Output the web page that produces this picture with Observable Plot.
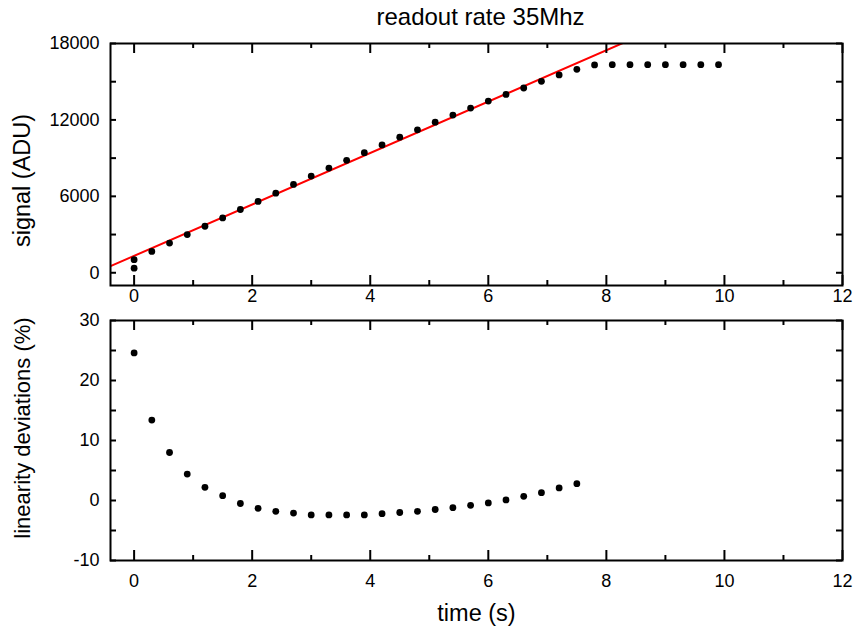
<!DOCTYPE html>
<html>
<head>
<meta charset="utf-8">
<script src="https://cdn.jsdelivr.net/npm/d3@7"></script>
<script src="https://cdn.jsdelivr.net/npm/@observablehq/plot@0.6"></script>
<style>
  html, body { margin: 0; padding: 0; background: #fff; }
  #chart { position: relative; width: 856px; height: 633px; font-family: "Liberation Sans", Arial, sans-serif; }
  #chart svg { position: absolute; left: 0; overflow: visible; }
</style>
</head>
<body>
<div id="chart"></div>
<script>
// ---- data ----
const titleText = "readout rate 35Mhz";
const signalLabel = "signal (ADU)";
const deviationLabel = "linearity deviations (%)";
const timeLabel = "time (s)";

const signalTime = [0, 0, 0.3, 0.6, 0.9, 1.2, 1.5, 1.8, 2.1, 2.4, 2.7, 3.0, 3.3, 3.6, 3.9, 4.2, 4.5, 4.8, 5.1, 5.4, 5.7, 6.0, 6.3, 6.6, 6.9, 7.2, 7.5, 7.8, 8.1, 8.4, 8.7, 9.0, 9.3, 9.6, 9.9];
const signalADU  = [1025, 363, 1679, 2334, 2996, 3650, 4305, 4967, 5598, 6252, 6938, 7592, 8223, 8830, 9429, 10036, 10643, 11219, 11826, 12378, 12930, 13482, 14002, 14507, 15027, 15531, 15973, 16320, 16340, 16340, 16340, 16340, 16340, 16340, 16340];

const devTime = [0, 0.3, 0.6, 0.9, 1.2, 1.5, 1.8, 2.1, 2.4, 2.7, 3.0, 3.3, 3.6, 3.9, 4.2, 4.5, 4.8, 5.1, 5.4, 5.7, 6.0, 6.3, 6.6, 6.9, 7.2, 7.5];
const devPct  = [24.6, 13.4, 8.0, 4.4, 2.2, 0.8, -0.5, -1.3, -1.8, -2.1, -2.4, -2.4, -2.4, -2.4, -2.2, -2.0, -1.8, -1.5, -1.2, -0.8, -0.4, 0.1, 0.7, 1.3, 2.1, 2.8];

// linear fit (red line)
const fitSlope = 2018;      // ADU per s
const fitIntercept = 1327;  // ADU at t = 0

const xDomain = [-0.4, 12];
const signalDomain = [-1000, 18000];
const devDomain = [-10, 30];

const xMajorTicks = [0, 2, 4, 6, 8, 10, 12];
const xMinorTicks = [1, 3, 5, 7, 9, 11];
const signalTicks = [0, 3000, 6000, 9000, 12000, 15000, 18000];
const signalTickLabels = [0, 6000, 12000, 18000];
const devTicks = [-10, -5, 0, 5, 10, 15, 20, 25, 30];
const devTickLabels = [-10, 0, 10, 20, 30];

// ---- build ----
const signalData = signalTime.map((t, i) => ({t, v: signalADU[i]}));
const devData = devTime.map((t, i) => ({t, v: devPct[i]}));
const fitData = xDomain.map(t => ({t, v: fitIntercept + fitSlope * t}));

const W = 856;
const mL = 110, mR = 14;
const innerW = W - mL - mR;
const fmt = d => String(d);
const font = "Liberation Sans, Arial, sans-serif";
const tickFont = 18;

function frameTicks(xTicksMaj, xTicksMin, yTicks, innerH) {
  return [
    Plot.tickX(xTicksMaj, {x: d => d, insetTop: innerH - 10, stroke: "black", strokeWidth: 2}),
    Plot.tickX(xTicksMaj, {x: d => d, insetBottom: innerH - 10, stroke: "black", strokeWidth: 2}),
    Plot.tickX(xTicksMin, {x: d => d, insetTop: innerH - 5, stroke: "black", strokeWidth: 2}),
    Plot.tickX(xTicksMin, {x: d => d, insetBottom: innerH - 5, stroke: "black", strokeWidth: 2}),
    Plot.tickY(yTicks, {y: d => d, insetRight: innerW - 6, stroke: "black", strokeWidth: 2}),
    Plot.tickY(yTicks, {y: d => d, insetLeft: innerW - 6, stroke: "black", strokeWidth: 2}),
    Plot.frame({stroke: "black", strokeWidth: 2})
  ];
}

// top panel
const H1 = 312, mT1 = 43, mB1 = 27;
const topPanel = Plot.plot({
  width: W, height: H1,
  marginTop: mT1, marginBottom: mB1, marginLeft: mL, marginRight: mR,
  style: {fontFamily: font, background: "transparent", color: "black"},
  x: {domain: xDomain},
  y: {domain: signalDomain},
  marks: [
    Plot.line(fitData, {x: "t", y: "v", stroke: "#ff0000", strokeWidth: 2, clip: true}),
    Plot.dot(signalData, {x: "t", y: "v", r: 3.4, fill: "black", stroke: "none"}),
    ...frameTicks(xMajorTicks, xMinorTicks, signalTicks, H1 - mT1 - mB1),
    Plot.axisX(xMajorTicks, {anchor: "bottom", tickSize: 0, tickPadding: 4, fontSize: tickFont, label: null, tickFormat: fmt}),
    Plot.axisY(signalTickLabels, {anchor: "left", tickSize: 0, tickPadding: 11, fontSize: tickFont, label: null, tickFormat: fmt}),
    Plot.text([titleText], {text: d => d, frameAnchor: "top", dx: 4, dy: -25.7, lineAnchor: "middle", fontSize: 24}),
    Plot.text([signalLabel], {text: d => d, frameAnchor: "left", rotate: -90, dx: -88.5, dy: 16, lineAnchor: "middle", textAnchor: "middle", fontSize: 23.5})
  ]
});
topPanel.style.top = "0px";

// bottom panel
const H2 = 321, mT2 = 8, mB2 = 73;
const bottomPanel = Plot.plot({
  width: W, height: H2,
  marginTop: mT2, marginBottom: mB2, marginLeft: mL, marginRight: mR,
  style: {fontFamily: font, background: "transparent", color: "black"},
  x: {domain: xDomain},
  y: {domain: devDomain},
  marks: [
    Plot.dot(devData, {x: "t", y: "v", r: 3.4, fill: "black", stroke: "none"}),
    ...frameTicks(xMajorTicks, xMinorTicks, devTicks, H2 - mT2 - mB2),
    Plot.axisX(xMajorTicks, {anchor: "bottom", tickSize: 0, tickPadding: 14, fontSize: tickFont, label: null, tickFormat: fmt}),
    Plot.axisY(devTickLabels, {anchor: "left", tickSize: 0, tickPadding: 11, fontSize: tickFont, label: null, tickFormat: fmt}),
    Plot.text([timeLabel], {text: d => d, frameAnchor: "bottom", dy: 52.5, lineAnchor: "middle", fontSize: 23.5}),
    Plot.text([deviationLabel], {text: d => d, frameAnchor: "left", rotate: -90, dx: -88, dy: -12.5, lineAnchor: "middle", textAnchor: "middle", fontSize: 22})
  ]
});
bottomPanel.style.top = "312px";

const chart = document.getElementById("chart");
chart.appendChild(topPanel);
chart.appendChild(bottomPanel);
</script>
</body>
</html>
